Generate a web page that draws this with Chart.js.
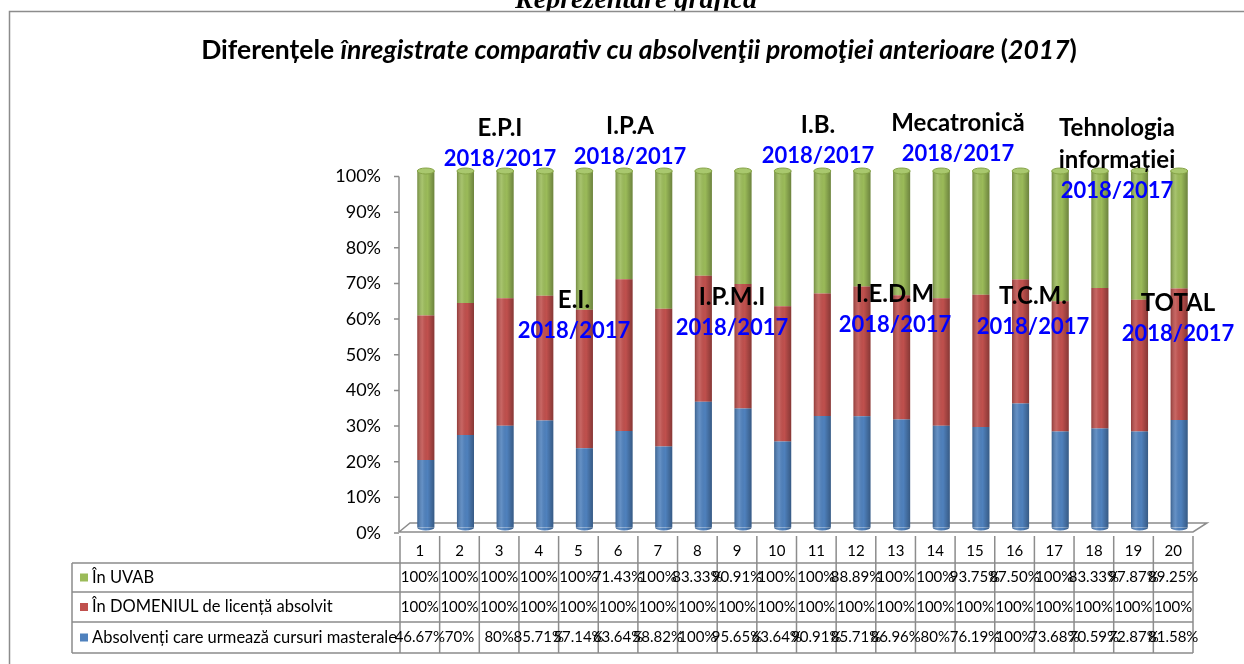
<!DOCTYPE html>
<html>
<head>
<meta charset="utf-8">
<script src="https://cdn.jsdelivr.net/npm/chart.js@4.4.0/dist/chart.umd.min.js"></script>
<style>
  html, body { margin: 0; padding: 0; background: #fff; }
  #wrap { width: 1244px; height: 664px; position: relative; }
</style>
</head>
<body>
<div id="wrap"><canvas id="myChart"></canvas></div>
<script>
const categories = ["1", "2", "3", "4", "5", "6", "7", "8", "9", "10", "11", "12", "13", "14", "15", "16", "17", "18", "19", "20"];
const masterale = [46.67, 70, 80, 85.71, 57.14, 63.64, 58.82, 100, 95.65, 63.64, 90.91, 85.71, 86.96, 80, 76.19, 100, 73.68, 70.59, 72.87, 81.58];
const domeniu = [100, 100, 100, 100, 100, 100, 100, 100, 100, 100, 100, 100, 100, 100, 100, 100, 100, 100, 100, 100];
const uvab = [100, 100, 100, 100, 100, 71.43, 100, 83.33, 90.91, 100, 100, 88.89, 100, 100, 93.75, 87.5, 100, 83.33, 97.87, 89.25];
const seriesNames = ["Absolvenți care urmează cursuri masterale", "În DOMENIUL de licență absolvit", "În UVAB"];
const seriesColors = ["#4f81bd", "#c0504d", "#9bbb59"];

// titles and text boxes
const topHeading = "Reprezentare grafică";
const titleParts = [["Diferențele ", false], ["înregistrate comparativ cu absolvenţii promoţiei anterioare ", true], ["(", false], ["2017", true], [")", false]];
const yearTag = "2018/2017";
const boxes = [
  { lines: ["E.P.I"], x: 500, y: 128 },
  { lines: ["I.P.A"], x: 630, y: 126 },
  { lines: ["E.I."], x: 574, y: 300 },
  { lines: ["I.P.M.I"], x: 732, y: 297 },
  { lines: ["I.B."], x: 818, y: 125 },
  { lines: ["Mecatronică"], x: 958, y: 123 },
  { lines: ["Tehnologia", "informației"], x: 1117, y: 128 },
  { lines: ["I.E.D.M"], x: 895, y: 294 },
  { lines: ["T.C.M."], x: 1033, y: 296 },
  { lines: ["TOTAL"], x: 1178, y: 303 },
];

// 100% stacked: share of each series in the column total
const totals = masterale.map((v, i) => v + domeniu[i] + uvab[i]);
const share = (arr) => arr.map((v, i) => v / totals[i] * 100);
const fmt = (v) => (Number.isInteger(v) ? v : v.toFixed(2)) + "%";

const FONT = "Lato, 'Open Sans', sans-serif";
const DX = -6, DY = 5.5; // depth offset of the 3d floor

const frame = {
  id: "frame",
  beforeDraw(chart) {
    const ctx = chart.ctx;
    ctx.save();
    ctx.fillStyle = "#fff";
    ctx.fillRect(0, 0, chart.width, chart.height);
    // clipped heading above the border
    ctx.fillStyle = "#000";
    ctx.font = "bold italic 28px 'Liberation Serif', serif";
    ctx.textAlign = "center";
    ctx.textBaseline = "alphabetic";
    ctx.fillText(topHeading, 636, 7.5);
    ctx.fillStyle = "#fff";
    ctx.fillRect(0, 11, chart.width, 6);
    // outer border
    ctx.strokeStyle = "#8c8c8c";
    ctx.lineWidth = 1.5;
    ctx.beginPath();
    ctx.moveTo(9.5, 664);
    ctx.lineTo(9.5, 11.5);
    ctx.lineTo(1244, 11.5);
    ctx.stroke();
    // title with mixed italics
    ctx.fillStyle = "#000";
    let size = 20;
    const widthAt = (s) => titleParts.reduce((w, [t, it]) => {
      ctx.font = (it ? "italic " : "") + "bold " + s + "px " + FONT;
      return w + ctx.measureText(t).width;
    }, 0);
    size = size * 876 / widthAt(size);
    let x = 639 - widthAt(size) / 2;
    ctx.textAlign = "left";
    ctx.textBaseline = "middle";
    titleParts.forEach(([t, it]) => {
      ctx.font = (it ? "italic " : "") + "bold " + size + "px " + FONT;
      ctx.fillText(t, x, 50);
      x += ctx.measureText(t).width;
    });
    ctx.restore();
  },
  beforeDatasetsDraw(chart) {
    const ctx = chart.ctx, a = chart.chartArea, y = chart.scales.y;
    ctx.save();
    ctx.strokeStyle = "#8c8c8c";
    ctx.lineWidth = 1.5;
    const fy = a.bottom + 4.5, by = a.bottom - 4.5;
    const ax = a.left + DX - 1;
    ctx.beginPath();
    ctx.moveTo(ax, fy); ctx.lineTo(a.right + DX, fy);
    ctx.lineTo(a.right + 8, by); ctx.lineTo(a.left + 4, by);
    ctx.lineTo(ax, fy);
    ctx.stroke();
    // value axis line and ticks
    ctx.beginPath();
    ctx.moveTo(ax, y.getPixelForValue(100) + DY);
    ctx.lineTo(ax, fy);
    y.ticks.forEach((t) => {
      const py = y.getPixelForValue(t.value) + DY;
      ctx.moveTo(ax - 5, py); ctx.lineTo(ax, py);
    });
    ctx.stroke();
    ctx.restore();
  },
  afterDatasetsDraw(chart) {
    const ctx = chart.ctx;
    ctx.save();
    chart.data.datasets.forEach((ds, di) => {
      const meta = chart.getDatasetMeta(di);
      meta.data.forEach((bar) => {
        const p = bar.getProps(["x", "y", "base", "width"], true);
        const l = p.x - p.width / 2;
        const g = ctx.createLinearGradient(l, 0, l + p.width, 0);
        g.addColorStop(0, "rgba(0,0,0,0.25)");
        g.addColorStop(0.3, "rgba(255,255,255,0.12)");
        g.addColorStop(0.6, "rgba(0,0,0,0)");
        g.addColorStop(1, "rgba(0,0,0,0.3)");
        if (di === 0) {
          ctx.fillStyle = ds.backgroundColor;
          ctx.beginPath();
          ctx.ellipse(p.x, p.base, p.width / 2, 3, 0, 0, Math.PI);
          ctx.fill();
          ctx.fillStyle = g;
          ctx.fill();
        }
        ctx.fillStyle = g;
        ctx.fillRect(l, p.y, p.width, p.base - p.y);
        if (di === 2) {
          ctx.beginPath();
          ctx.ellipse(p.x, p.y, p.width / 2, 3, 0, 0, Math.PI * 2);
          ctx.fillStyle = "#a9c86e";
          ctx.fill();
          ctx.strokeStyle = "#86a447";
          ctx.lineWidth = 1;
          ctx.stroke();
        }
      });
    });
    ctx.restore();
  },
  afterDraw(chart) {
    const ctx = chart.ctx, x = chart.scales.x;
    const half = (x.getPixelForValue(1) - x.getPixelForValue(0)) / 2;
    const left = x.getPixelForValue(0) - half + DX;
    const right = x.getPixelForValue(categories.length - 1) + half + DX;
    const rows = [536, 563, 592, 622, 653];
    ctx.save();
    ctx.strokeStyle = "#8c8c8c";
    ctx.lineWidth = 1.5;
    ctx.beginPath();
    for (let i = 0; i <= categories.length; i++) {
      const px = left + i * half * 2;
      ctx.moveTo(px, rows[0]); ctx.lineTo(px, rows[4]);
    }
    ctx.moveTo(72, rows[1]); ctx.lineTo(72, rows[4]);
    for (let r = 1; r < rows.length; r++) {
      ctx.moveTo(72, rows[r]); ctx.lineTo(right, rows[r]);
    }
    ctx.stroke();
    ctx.fillStyle = "#000";
    ctx.textBaseline = "middle";
    ctx.textAlign = "center";
    ctx.font = "15px " + FONT;
    categories.forEach((c, i) => ctx.fillText(c, x.getPixelForValue(i) + DX, 551));
    const order = [2, 1, 0];
    const rawRows = [masterale, domeniu, uvab];
    order.forEach((si, r) => {
      const cy = (rows[r + 1] + rows[r + 2]) / 2;
      ctx.fillStyle = seriesColors[si];
      ctx.fillRect(80, cy - 4, 8, 8);
      ctx.fillStyle = "#000";
      ctx.textAlign = "left";
      ctx.font = "16.5px " + FONT;
      ctx.fillText(seriesNames[si], 92, cy);
      ctx.textAlign = "center";
      ctx.font = "15px " + FONT;
      rawRows[si].forEach((v, i) => ctx.fillText(fmt(v), x.getPixelForValue(i) + DX, cy));
    });
    // text boxes over the plot
    boxes.forEach((b) => {
      ctx.fillStyle = "#000";
      ctx.font = "bold 24px " + FONT;
      b.lines.forEach((t, k) => ctx.fillText(t, b.x, b.y + k * 32));
      ctx.fillStyle = "#0000ff";
      ctx.font = "bold 22px " + FONT;
      ctx.fillText(yearTag, b.x, b.y + b.lines.length * 32 - 1);
    });
    ctx.restore();
  }
};

new Chart(document.getElementById("myChart"), {
  type: "bar",
  data: {
    labels: categories,
    datasets: [
      { label: seriesNames[0], data: share(masterale), backgroundColor: seriesColors[0] },
      { label: seriesNames[1], data: share(domeniu), backgroundColor: seriesColors[1] },
      { label: seriesNames[2], data: share(uvab), backgroundColor: seriesColors[2] },
    ],
  },
  options: {
    responsive: true,
    maintainAspectRatio: false,
    animation: false,
    layout: { padding: { left: 0, right: 45, top: 171, bottom: 136.5 } },
    datasets: { bar: { barPercentage: 0.43, categoryPercentage: 1, borderWidth: 0 } },
    plugins: { legend: { display: false }, tooltip: { enabled: false } },
    scales: {
      x: { stacked: true, display: false },
      y: {
        stacked: true,
        min: 0,
        max: 100,
        afterFit: (s) => { s.width = 406; },
        grid: { display: false, drawTicks: false },
        border: { display: false },
        ticks: {
          stepSize: 10,
          padding: 25,
          labelOffset: DY,
          color: "#000",
          font: { family: FONT, size: 18 },
          callback: (v) => v + "%",
        },
      },
    },
  },
  plugins: [frame],
});
</script>
</body>
</html>
